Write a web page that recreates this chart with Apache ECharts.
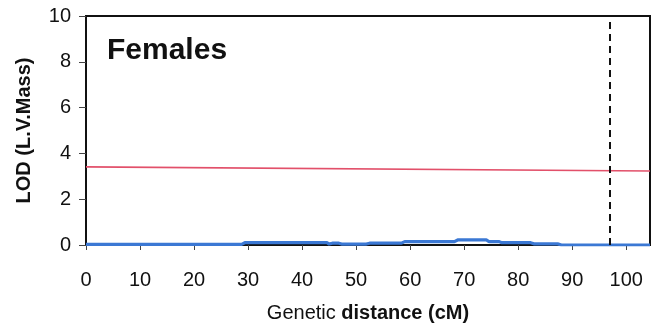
<!DOCTYPE html>
<html><head><meta charset="utf-8">
<script src="https://cdn.jsdelivr.net/npm/echarts@6/dist/echarts.min.js"></script>
<style>html,body{margin:0;padding:0;background:#fff}#c{width:662px;height:329px}</style>
</head><body><div id="c"></div>
<script>
var xTicks = [0,10,20,30,40,50,60,70,80,90,100];
var yTicks = [0,2,4,6,8,10];
var lodProfile = [[0,0.03],[28.8,0.03],[29.4,0.1],[44.6,0.1],[45.0,0.04],[45.6,0.08],[46.8,0.08],[47.3,0.04],[51.9,0.04],[52.5,0.08],[58.4,0.08],[59.0,0.15],[68.2,0.15],[68.8,0.22],[74.1,0.22],[74.6,0.15],[76.4,0.15],[77.0,0.1],[82.3,0.1],[82.9,0.05],[87.3,0.05],[88.0,0.0],[104.4,0.0]];
var thresholdLine = [[0,3.41],[104.4,3.23]];
var markerX = [97];
var xMax = 104.4;

var chart = echarts.init(document.getElementById('c'));
var font = 'Liberation Sans, Arial, sans-serif';
chart.setOption({
  animation:false,
  title:{text:'Females',left:102,top:31,textStyle:{fontFamily:font,fontSize:30,fontWeight:'bold',color:'#111'}},
  grid:{left:86,right:12,top:16,bottom:84,show:true,borderColor:'#111',borderWidth:2,backgroundColor:'transparent'},
  xAxis:{type:'value',min:0,max:xMax,interval:10,
    axisLine:{show:true,lineStyle:{color:'#111',width:2}},
    axisTick:{show:true,length:5,lineStyle:{color:'#444',width:1}},
    axisLabel:{fontFamily:font,fontSize:20,color:'#111',margin:25,showMaxLabel:false,
      formatter:function(v){return xTicks.indexOf(v)>=0?String(v):'';}},
    splitLine:{show:false},
    name:'{n|Genetic }{b|distance (cM)}',nameLocation:'middle',nameGap:58,
    nameTextStyle:{rich:{n:{fontFamily:font,fontSize:20,color:'#111'},b:{fontFamily:font,fontSize:20,fontWeight:'bold',color:'#111'}}}
  },
  yAxis:{type:'value',min:0,max:10,interval:2,
    axisLine:{show:true,lineStyle:{color:'#111',width:2}},
    axisTick:{show:true,length:7,lineStyle:{color:'#444',width:1}},
    axisLabel:{fontFamily:font,fontSize:20,color:'#111',margin:15,
      formatter:function(v){return yTicks.indexOf(v)>=0?String(v):'';}},
    splitLine:{show:false},
    name:'LOD (L.V.Mass)',nameLocation:'middle',nameGap:52,
    nameTextStyle:{fontFamily:font,fontSize:20,fontWeight:'bold',color:'#111'}
  },
  series:[
    {type:'line',data:thresholdLine,symbol:'none',lineStyle:{color:'#e2506a',width:1.6},z:2},
    {type:'line',data:lodProfile,symbol:'none',lineStyle:{color:'#3b78d4',width:3.2},z:3,
      markLine:{silent:true,symbol:'none',label:{show:false},
        lineStyle:{color:'#111',width:2,type:[7,5]},
        data:markerX.map(function(v){return {xAxis:v};})}}
  ]
});
</script></body></html>
